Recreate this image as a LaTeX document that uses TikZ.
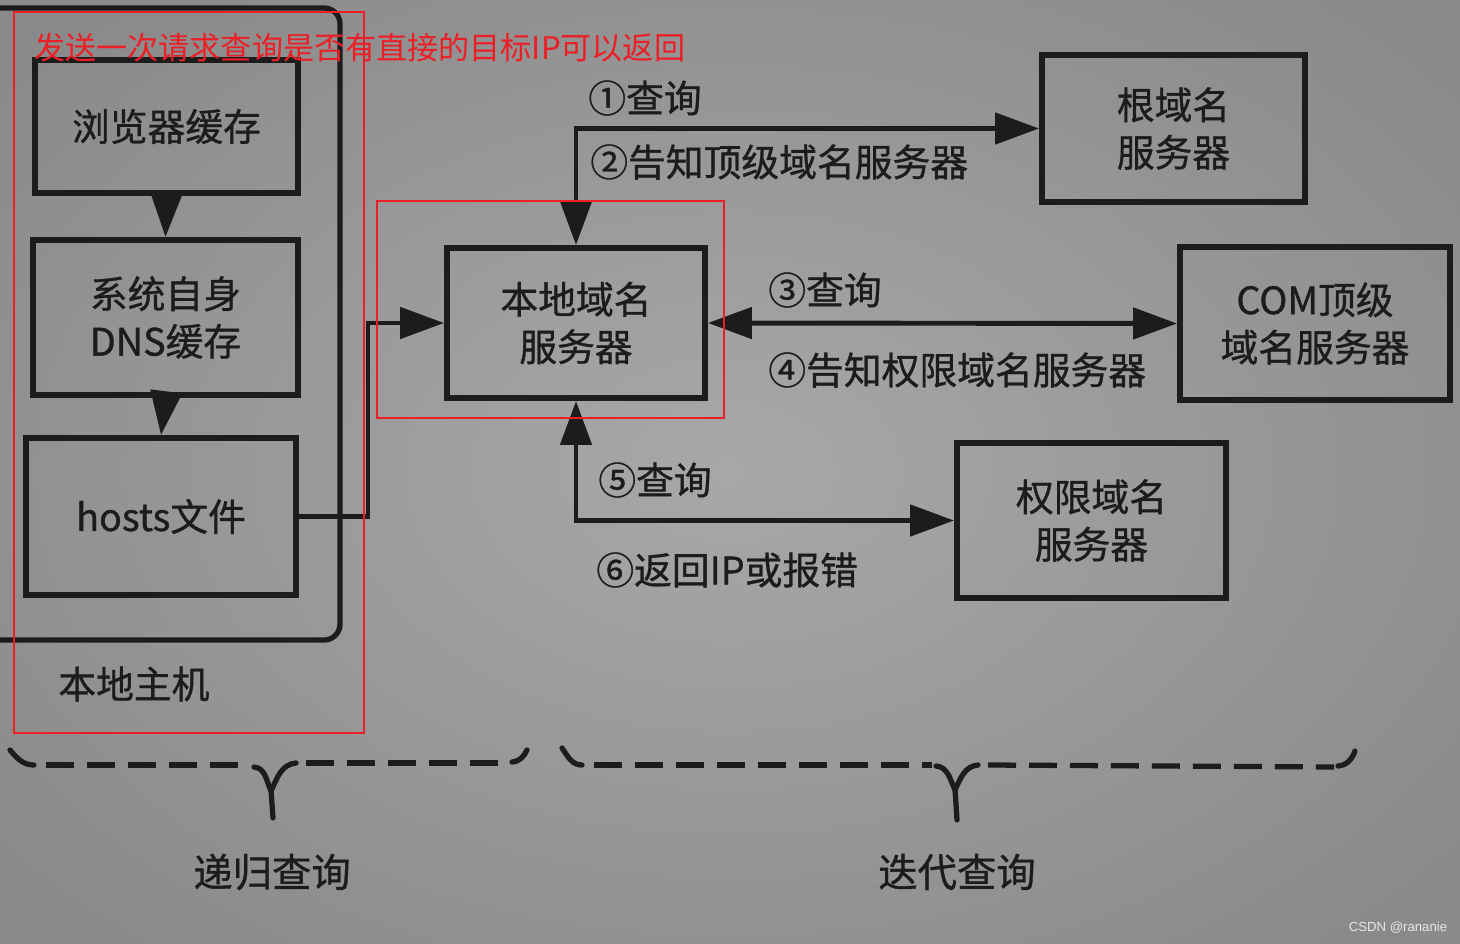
\documentclass[tikz,border=0pt]{standalone}
\usepackage{fontspec}
\setmainfont{Noto Sans CJK SC}[FakeBold=0.9]
\newfontfamily\redfont{Noto Sans CJK SC}
\newfontfamily\wmfont{Liberation Sans}
\usetikzlibrary{arrows.meta}
\definecolor{ink}{RGB}{28,28,28}
\definecolor{redmark}{RGB}{236,30,38}
\definecolor{bgin}{RGB}{168,168,168}
\definecolor{bgout}{RGB}{138,138,138}
\tikzset{
  box/.style={draw=ink, line width=3.4pt, inner sep=0pt, align=center, text=ink,
    font=\fontsize{21.5pt}{27pt}\selectfont},
  lbl/.style={inner sep=0pt, anchor=west, text=ink, font=\fontsize{21.5pt}{26pt}\selectfont},
  conn/.style={draw=ink, line width=2.8pt},
  >={Triangle[length=0.88cm,width=0.62cm]},
  brace/.style={draw=ink, line width=3pt, line cap=round},
  bdash/.style={draw=ink, line width=3pt, dash pattern=on 0.56cm off 0.26cm},
  redbox/.style={draw=redmark, line width=1.3pt},
}
\begin{document}
\begin{tikzpicture}[x=0.02cm,y=-0.02cm]
\useasboundingbox (0,0) rectangle (1460,943);
\clip (0,0) rectangle (1460,943);
\shade[inner color=bgin, outer color=bgout] (-200,-150) rectangle (1660,1093);

% outer frame (local host)
\draw[ink, line width=3pt, rounded corners=9pt] (-20,8) -- (340,8) -- (340,640) -- (-20,640);
\node[lbl] (hostlbl) at (58,684) {本地主机};

% left boxes
\node[box, minimum width=5.26cm, minimum height=2.66cm] (br) at (166.5,126.5) {浏览器缓存};
\node[box, minimum width=5.3cm, minimum height=3.1cm] (dns) at (165.5,317.5) {系统自身\\DNS缓存};
\node[box, minimum width=5.4cm, minimum height=3.14cm] (hosts) at (161,516.5) {hosts文件};

\draw[conn,->] (br.south) -- (dns.north);
\draw[conn,->] (dns.south) -- (hosts.north);

% servers
\node[box, minimum width=5.16cm, minimum height=3.0cm] (local) at (576,323) {本地域名\\服务器};
\node[box, minimum width=5.26cm, minimum height=2.94cm] (root) at (1173.5,128.5) {根域名\\服务器};
\node[box, minimum width=5.4cm, minimum height=3.06cm] (com) at (1315,323.5) {COM顶级\\域名服务器};
\node[box, minimum width=5.38cm, minimum height=3.1cm] (auth) at (1091.5,520.5) {权限域名\\服务器};

\coordinate (j) at (368,516.5);
\draw[conn,->] (hosts.east) -- (j) |- (local.west);
\draw[conn,<->] (root.west) -| (local.north);
\draw[conn,<->] (local.east) -- (com.west);
\draw[conn,<->] (local.south) |- (auth.west);

% labels
\node[lbl] (l1) at (588,98) {①查询};
\node[lbl] (l2) at (590,162) {②告知顶级域名服务器};
\node[lbl] (l3) at (768,290) {③查询};
\node[lbl] (l4) at (768,370) {④告知权限域名服务器};
\node[lbl] (l5) at (598,480) {⑤查询};
\node[lbl] (l6) at (596,570) {⑥返回IP或报错};

% braces
\draw[brace] (10,750) to[out=-50,in=180] (34,765);
\draw[bdash] (46,765) -- (250,765);
\draw[brace] (254,767) to[out=-5,in=115] (271,791);
\draw[brace] (296,763) to[out=185,in=65] (271,791);
\draw[brace] (271,790) -- (273,818);
\draw[bdash] (306,763) -- (508,763);
\draw[brace] (512,762) to[out=5,in=-115] (527,750);

\draw[brace] (562,748) to[out=-55,in=180] (582,765);
\draw[bdash] (594,765) -- (932,765);
\draw[brace] (936,766) to[out=-5,in=115] (955,790);
\draw[brace] (978,765) to[out=185,in=65] (955,790);
\draw[brace] (955,789) -- (957,820);
\draw[bdash] (988,765) -- (1334,767);
\draw[brace] (1338,766) to[out=5,in=-110] (1355,751);

\node[inner sep=0pt, text=ink, font=\fontsize{22.4pt}{26pt}\selectfont] (rec) at (272,872) {递归查询};
\node[inner sep=0pt, text=ink, font=\fontsize{22.4pt}{26pt}\selectfont] (ite) at (957,872) {迭代查询};

% red annotations
\draw[redbox] (14,12) rectangle (364,733);
\draw[redbox] (377,201) rectangle (724,418);
\node[inner sep=0pt, anchor=west, text=redmark, font=\redfont\fontsize{17.7pt}{20pt}\selectfont] (note) at (34,48) {发送一次请求查询是否有直接的目标IP可以返回};

% watermark
\node[inner sep=0pt, text={rgb,255:red,232;green,232;blue,232}, font=\wmfont\fontsize{7.5pt}{9pt}\selectfont] (wm) at (1398,928) {CSDN @rananie};
\end{tikzpicture}
\end{document}
